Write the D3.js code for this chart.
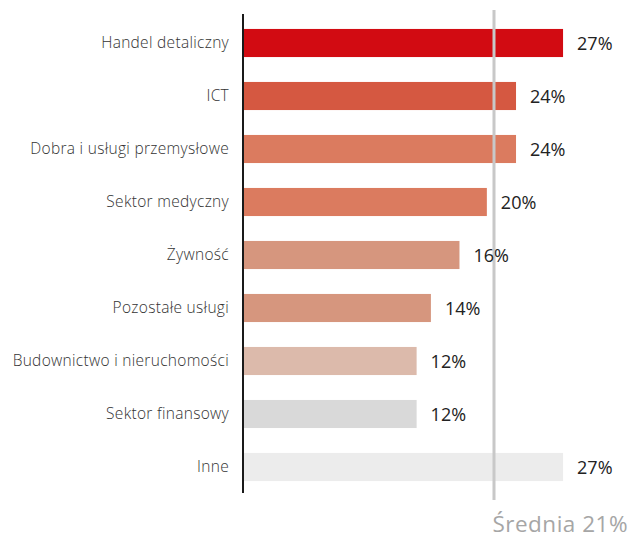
<!DOCTYPE html>
<html>
<head>
<meta charset="utf-8">
<title>Sektory</title>
<script src="https://d3js.org/d3.v7.min.js"></script>
<style>
  body { margin: 0; background: #fff; }
</style>
</head>
<body>
<div id="chart"></div>
<script>
// dane
const categories = ["Handel detaliczny", "ICT", "Dobra i usługi przemysłowe", "Sektor medyczny",
  "Żywność", "Pozostałe usługi", "Budownictwo i nieruchomości", "Sektor finansowy", "Inne"];
const labels = [27, 24, 24, 20, 16, 14, 12, 12, 27];
// długości słupków (w skali osi, gdzie linia średniej = 21)
const barValues = [26.8, 22.85, 22.85, 20.4, 18.1, 15.7, 14.5, 14.5, 26.8];
const colors = ["#d20b12", "#d55841", "#db7b5f", "#db7b5f", "#d6967e", "#d6967e", "#dcbaab", "#d9d9d9", "#ececec"];
const average = 21;

const width = 640, height = 540;
const svg = d3.select("#chart").append("svg")
  .attr("width", width).attr("height", height);

const x = d3.scaleLinear().domain([0, average]).range([244, 494]);
const y = d3.scaleBand().domain(categories).range([16.5, 493.5]).paddingInner(0.47).paddingOuter(0.235);

const rows = categories.map((c, i) => ({ cat: c, v: barValues[i], label: labels[i], color: colors[i] }));

svg.selectAll("rect.bar").data(rows).enter().append("rect")
  .attr("class", "bar")
  .attr("x", x(0))
  .attr("y", d => y(d.cat))
  .attr("width", d => x(d.v) - x(0))
  .attr("height", y.bandwidth())
  .attr("fill", d => d.color);

// linia średniej
svg.append("line")
  .attr("x1", x(average)).attr("x2", x(average))
  .attr("y1", 10).attr("y2", 500)
  .attr("stroke", "#c8c8c8").attr("stroke-width", 3);

// oś
svg.append("line")
  .attr("x1", 243).attr("x2", 243)
  .attr("y1", 14).attr("y2", 493)
  .attr("stroke", "#1a1a1a").attr("stroke-width", 2);

svg.selectAll("text.cat").data(rows).enter().append("text")
  .attr("class", "cat")
  .attr("x", 229)
  .attr("y", d => y(d.cat) + y.bandwidth() / 2)
  .attr("dy", "0.35em")
  .attr("text-anchor", "end")
  .attr("font-family", "'Open Sans', sans-serif")
  .attr("font-weight", 300)
  .attr("font-size", "15.5px")
  .attr("letter-spacing", "0.3px")
  .attr("fill", "#333")
  .text(d => d.cat);

svg.selectAll("text.val").data(rows).enter().append("text")
  .attr("class", "val")
  .attr("x", d => x(d.v) + 14)
  .attr("y", d => y(d.cat) + y.bandwidth() / 2 + 1)
  .attr("dy", "0.35em")
  .attr("font-family", "'Open Sans', sans-serif")
  .attr("font-weight", 500)
  .attr("font-size", "18px")
  .attr("fill", "#222")
  .text(d => d.label + "%");

svg.append("text")
  .attr("x", 628)
  .attr("y", 532)
  .attr("text-anchor", "end")
  .attr("font-family", "'Open Sans', sans-serif")
  .attr("font-size", "22.5px")
  .attr("letter-spacing", "0.5px")
  .attr("fill", "#a6a6a6")
  .text("Średnia " + average + "%");
</script>
</body>
</html>
